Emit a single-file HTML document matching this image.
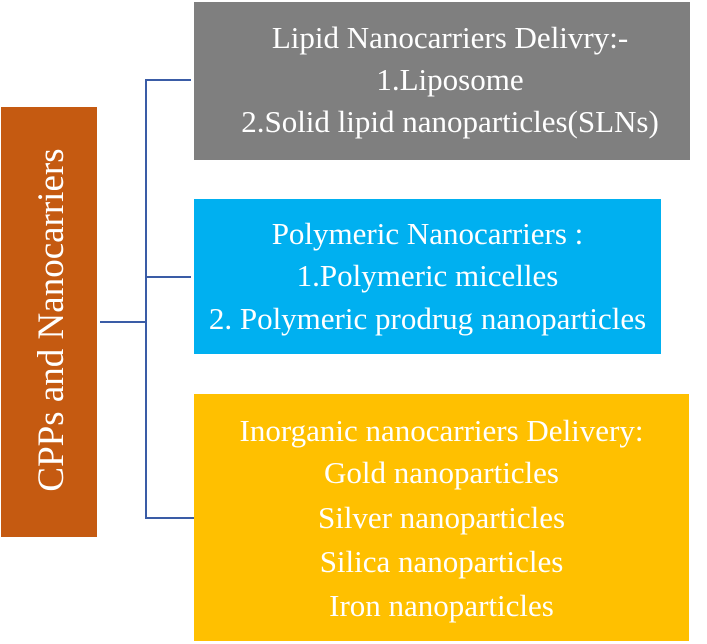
<!DOCTYPE html>
<html><head><meta charset="utf-8"><style>
body{margin:0;width:707px;height:644px;background:#fff;position:relative;overflow:hidden;font-family:"Liberation Serif",serif;color:#fff}
.b{position:absolute;box-sizing:border-box;text-align:center}
.t{position:absolute;left:-20px;right:-20px;font-size:31px;line-height:34px;white-space:nowrap}
.l{position:absolute;background:#3a5ca6}
</style></head><body>
<div class="b" style="left:1px;top:107px;width:96px;height:430px;background:#c55a11"></div>
<div style="position:absolute;left:52px;top:320px;transform:translate(-50%,-50%) rotate(-90deg);font-size:37px;white-space:nowrap;line-height:40px">CPPs and Nanocarriers</div>

<div class="b" style="left:194px;top:2px;width:496px;height:158px;background:#7f7f7f">
<div class="t" style="top:19px;left:-12px;right:-28px">Lipid Nanocarriers Delivry:-</div>
<div class="t" style="top:61px;left:-12px;right:-28px">1.Liposome</div>
<div class="t" style="top:103px;left:-12px;right:-28px">2.Solid lipid nanoparticles(SLNs)</div>
</div>
<div class="b" style="left:194px;top:199px;width:467px;height:155px;background:#00b0f0">
<div class="t" style="top:18px">Polymeric Nanocarriers :</div>
<div class="t" style="top:60px">1.Polymeric micelles</div>
<div class="t" style="top:103px">2. Polymeric prodrug nanoparticles</div>
</div>
<div class="b" style="left:194px;top:394px;width:495px;height:247px;background:#ffc000">
<div class="t" style="top:20px">Inorganic nanocarriers Delivery:</div>
<div class="t" style="top:62px">Gold nanoparticles</div>
<div class="t" style="top:107px">Silver nanoparticles</div>
<div class="t" style="top:151px">Silica nanoparticles</div>
<div class="t" style="top:195px">Iron nanoparticles</div>
</div>

<div class="l" style="left:145px;top:79px;width:2px;height:440px"></div>
<div class="l" style="left:145px;top:79px;width:46px;height:2px"></div>
<div class="l" style="left:145px;top:276px;width:46px;height:2px"></div>
<div class="l" style="left:145px;top:517px;width:49px;height:2px"></div>
<div class="l" style="left:100px;top:321px;width:47px;height:2px"></div>
</body></html>
